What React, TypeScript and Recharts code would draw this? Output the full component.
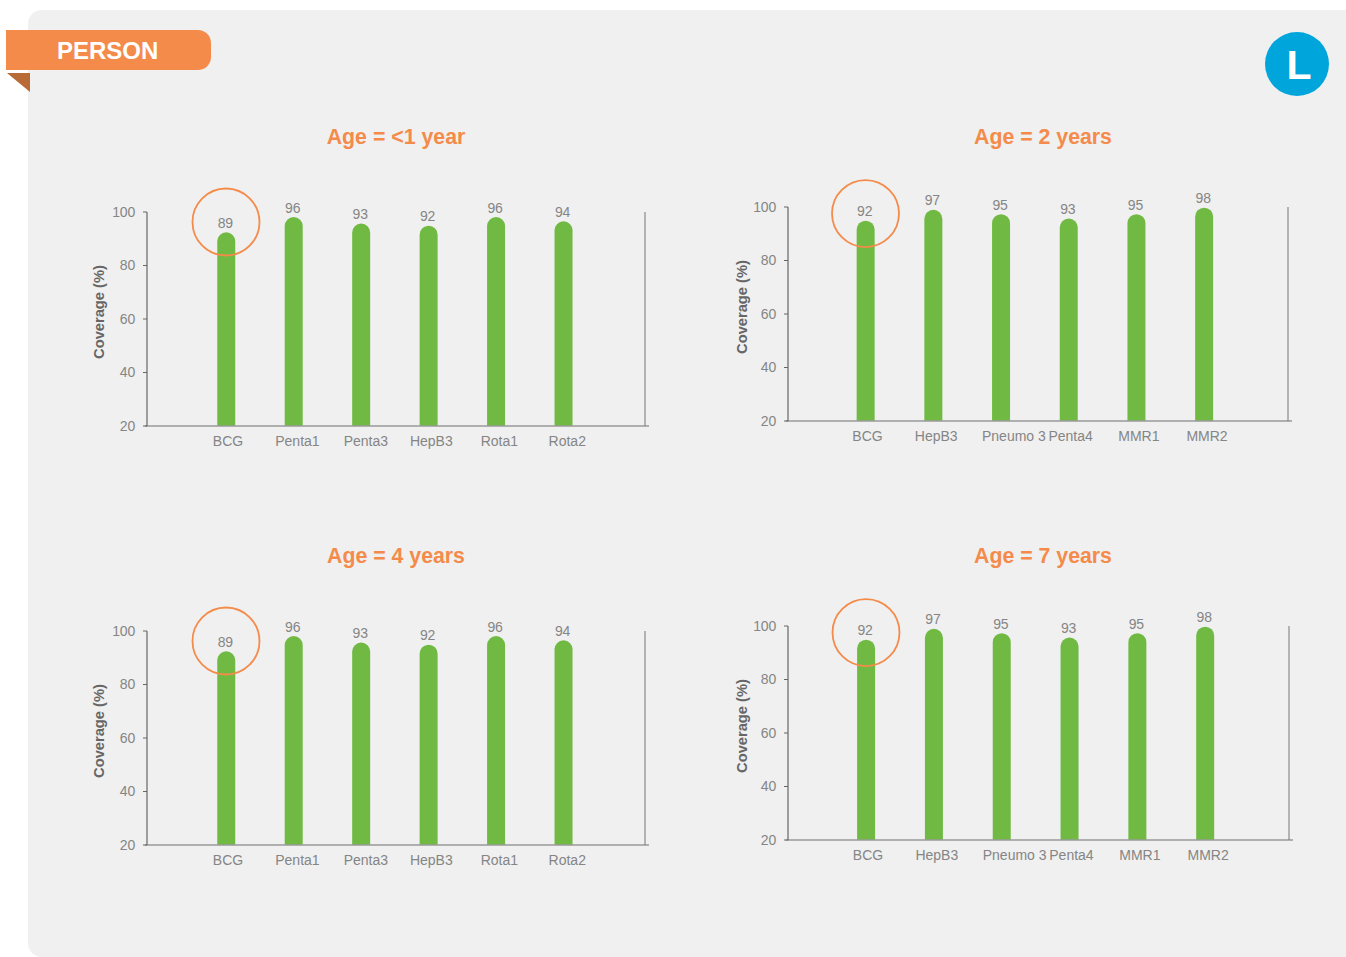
import React from "react";
import { ComposedChart, Bar, Line, XAxis, YAxis, LabelList, ReferenceDot, ReferenceLine } from "recharts";

// Vaccines and coverage for each age group
const infantVaccines = ["BCG", "Penta1", "Penta3", "HepB3", "Rota1", "Rota2"];
const infantCoverage = [89, 96, 93, 92, 96, 94];
const olderVaccines = ["BCG", "HepB3", "Pneumo 3", "Penta4", "MMR1", "MMR2"];
const olderCoverage = [92, 97, 95, 93, 95, 98];
const yTicks = [20, 40, 60, 80, 100];

const ORANGE = "#f48b4a";
const GREEN = "#70ba44";
const FONT = '"Liberation Sans", Arial, sans-serif';

type Panel = {
  title: string;
  titleX: number;
  titleY: number;
  names: string[];
  values: number[];
  left: number;
  top: number;
  width: number;
  padLeft: number;
  padRight: number;
  axisTitleOffset: number;
  ringLift: number;
};

const panels: Panel[] = [
  { title: "Age = <1 year", titleX: 396, titleY: 136.5, names: infantVaccines, values: infantCoverage, left: 147, top: 212, width: 498, padLeft: 45.25, padRight: 48, axisTitleOffset: 22, ringLift: 4.7 },
  { title: "Age = 2 years", titleX: 1043, titleY: 136.5, names: olderVaccines, values: olderCoverage, left: 788, top: 207, width: 500, padLeft: 43.65, padRight: 50.15, axisTitleOffset: 24, ringLift: 3.3 },
  { title: "Age = 4 years", titleX: 396, titleY: 555.5, names: infantVaccines, values: infantCoverage, left: 147, top: 631, width: 498, padLeft: 45.25, padRight: 48, axisTitleOffset: 22, ringLift: 4.7 },
  { title: "Age = 7 years", titleX: 1043, titleY: 555.5, names: olderVaccines, values: olderCoverage, left: 788, top: 626, width: 501, padLeft: 44.1, padRight: 50, axisTitleOffset: 24, ringLift: 3.3 },
];

const PLOT_H = 214;
const M_LEFT = 70;
const M_TOP = 50;
const M_RIGHT = 20;
const M_BOTTOM = 50;

// Horizontal shift of each category label relative to its bar
const labelShift: Record<string, number> = {
  BCG: 2,
  Penta1: 4,
  Penta3: 5,
  HepB3: 3,
  Rota1: 3.5,
  Rota2: 4,
  "Pneumo 3": 13,
  Penta4: 2,
  MMR1: 2.6,
  MMR2: 3,
};

function VaccineTick(props: any) {
  const { x, y, payload } = props;
  return (
    <text x={x + (labelShift[payload.value] ?? 3)} y={y + 8.5} textAnchor="middle" dominantBaseline="middle" fontFamily={FONT} fontSize={14} fill="#858585">
      {payload.value}
    </text>
  );
}

// Baseline that runs slightly past both ends of the plot
function BaseLine(props: any) {
  const { x1, x2, y1, y2 } = props;
  return <line x1={Math.min(x1, x2) - 2} x2={Math.max(x1, x2) + 4} y1={y1} y2={y2} stroke="#9a9a9a" strokeWidth={1.6} />;
}

function CoverageChart({ panel }: { panel: Panel }) {
  const data = panel.names.map((name, i) => ({ name, coverage: panel.values[i] }));
  return (
    <div style={{ position: "absolute", left: panel.left - M_LEFT, top: panel.top - M_TOP }}>
      <ComposedChart
        width={M_LEFT + panel.width + M_RIGHT}
        height={M_TOP + PLOT_H + M_BOTTOM}
        data={data}
        margin={{ left: 0, top: M_TOP, right: 0, bottom: 0 }}
      >
        <XAxis
          dataKey="name"
          xAxisId="v"
          axisLine={false}
          tickLine={false}
          interval={0}
          height={M_BOTTOM}
          tick={<VaccineTick />}
          padding={{ left: panel.padLeft, right: panel.padRight }}
        />
        <YAxis
          yAxisId="scale"
          type="number"
          domain={[20, 100]}
          ticks={yTicks}
          width={M_LEFT}
          axisLine={{ stroke: "#666666", strokeWidth: 1.2 }}
          tickLine={{ stroke: "#666666" }}
          tickSize={4}
          tickMargin={8}
          tick={{ fontFamily: FONT, fontSize: 14, fill: "#858585", letterSpacing: -0.2 }}
          label={{
            value: "Coverage (%)",
            angle: -90,
            position: "insideLeft",
            offset: panel.axisTitleOffset,
            dy: -7,
            style: { fontFamily: FONT, fontSize: 14.7, fontWeight: 700, fill: "#666666", textAnchor: "middle" },
          }}
        />
        <YAxis
          yAxisId="bars"
          orientation="right"
          type="number"
          domain={[0, 98.3]}
          width={M_RIGHT}
          tick={false}
          tickLine={false}
          axisLine={{ stroke: "#777777", strokeWidth: 1 }}
        />
        {/* Invisible series keeps the labelled scale tied to the data */}
        <Line dataKey="coverage" xAxisId="v" yAxisId="scale" stroke="none" dot={false} activeDot={false} legendType="none" isAnimationActive={false} />
        <Bar dataKey="coverage" xAxisId="v" yAxisId="bars" barSize={18} fill={GREEN} radius={[9, 9, 0, 0]} isAnimationActive={false}>
          <LabelList dataKey="coverage" position="top" offset={4.5} dx={-1} fontFamily={FONT} fontSize={14} letterSpacing={-0.2} fill="#858585" />
        </Bar>
        <ReferenceLine xAxisId="v" yAxisId="bars" y={0} ifOverflow="visible" shape={<BaseLine />} />
        <ReferenceDot
          xAxisId="v"
          yAxisId="bars"
          x={panel.names[0]}
          y={panel.values[0] + panel.ringLift}
          r={33.5}
          fill="none"
          stroke={ORANGE}
          strokeWidth={1.8}
          ifOverflow="visible"
        />
      </ComposedChart>
    </div>
  );
}

export default function App() {
  return (
    <div style={{ position: "absolute", left: 0, top: 0, width: 1346, height: 957, overflow: "hidden", background: "#ffffff", fontFamily: FONT }}>
      <div style={{ position: "absolute", left: 28, top: 10, width: 1318, height: 947, background: "#f0f0f0", borderTopLeftRadius: 14, borderBottomLeftRadius: 14 }} />
      <div style={{ position: "absolute", left: 6, top: 30, width: 205, height: 40, background: ORANGE, borderRadius: "0 13px 13px 0", color: "#fff", fontWeight: 700, fontSize: 24, lineHeight: "41px", paddingLeft: 51, boxSizing: "border-box" }}>
        PERSON
      </div>
      <div style={{ position: "absolute", left: 7, top: 73, width: 23, height: 19, background: "#b96b37", clipPath: "polygon(0 0, 100% 0, 100% 100%)" }} />
      <div style={{ position: "absolute", left: 1265, top: 32, width: 64, height: 64, boxSizing: "border-box", paddingLeft: 4, borderRadius: "50%", background: "#00a5dc", color: "#fff", fontWeight: 700, fontSize: 41, lineHeight: "66px", textAlign: "center" }}>
        L
      </div>
      {panels.map((p) => (
        <div key={p.title + p.titleY} style={{ position: "absolute", left: p.titleX - 150, top: p.titleY - 15, width: 300, height: 30, lineHeight: "30px", textAlign: "center", color: ORANGE, fontWeight: 700, fontSize: 21.3 }}>
          {p.title}
        </div>
      ))}
      {panels.map((p) => (
        <CoverageChart key={p.title + "-chart"} panel={p} />
      ))}
    </div>
  );
}
